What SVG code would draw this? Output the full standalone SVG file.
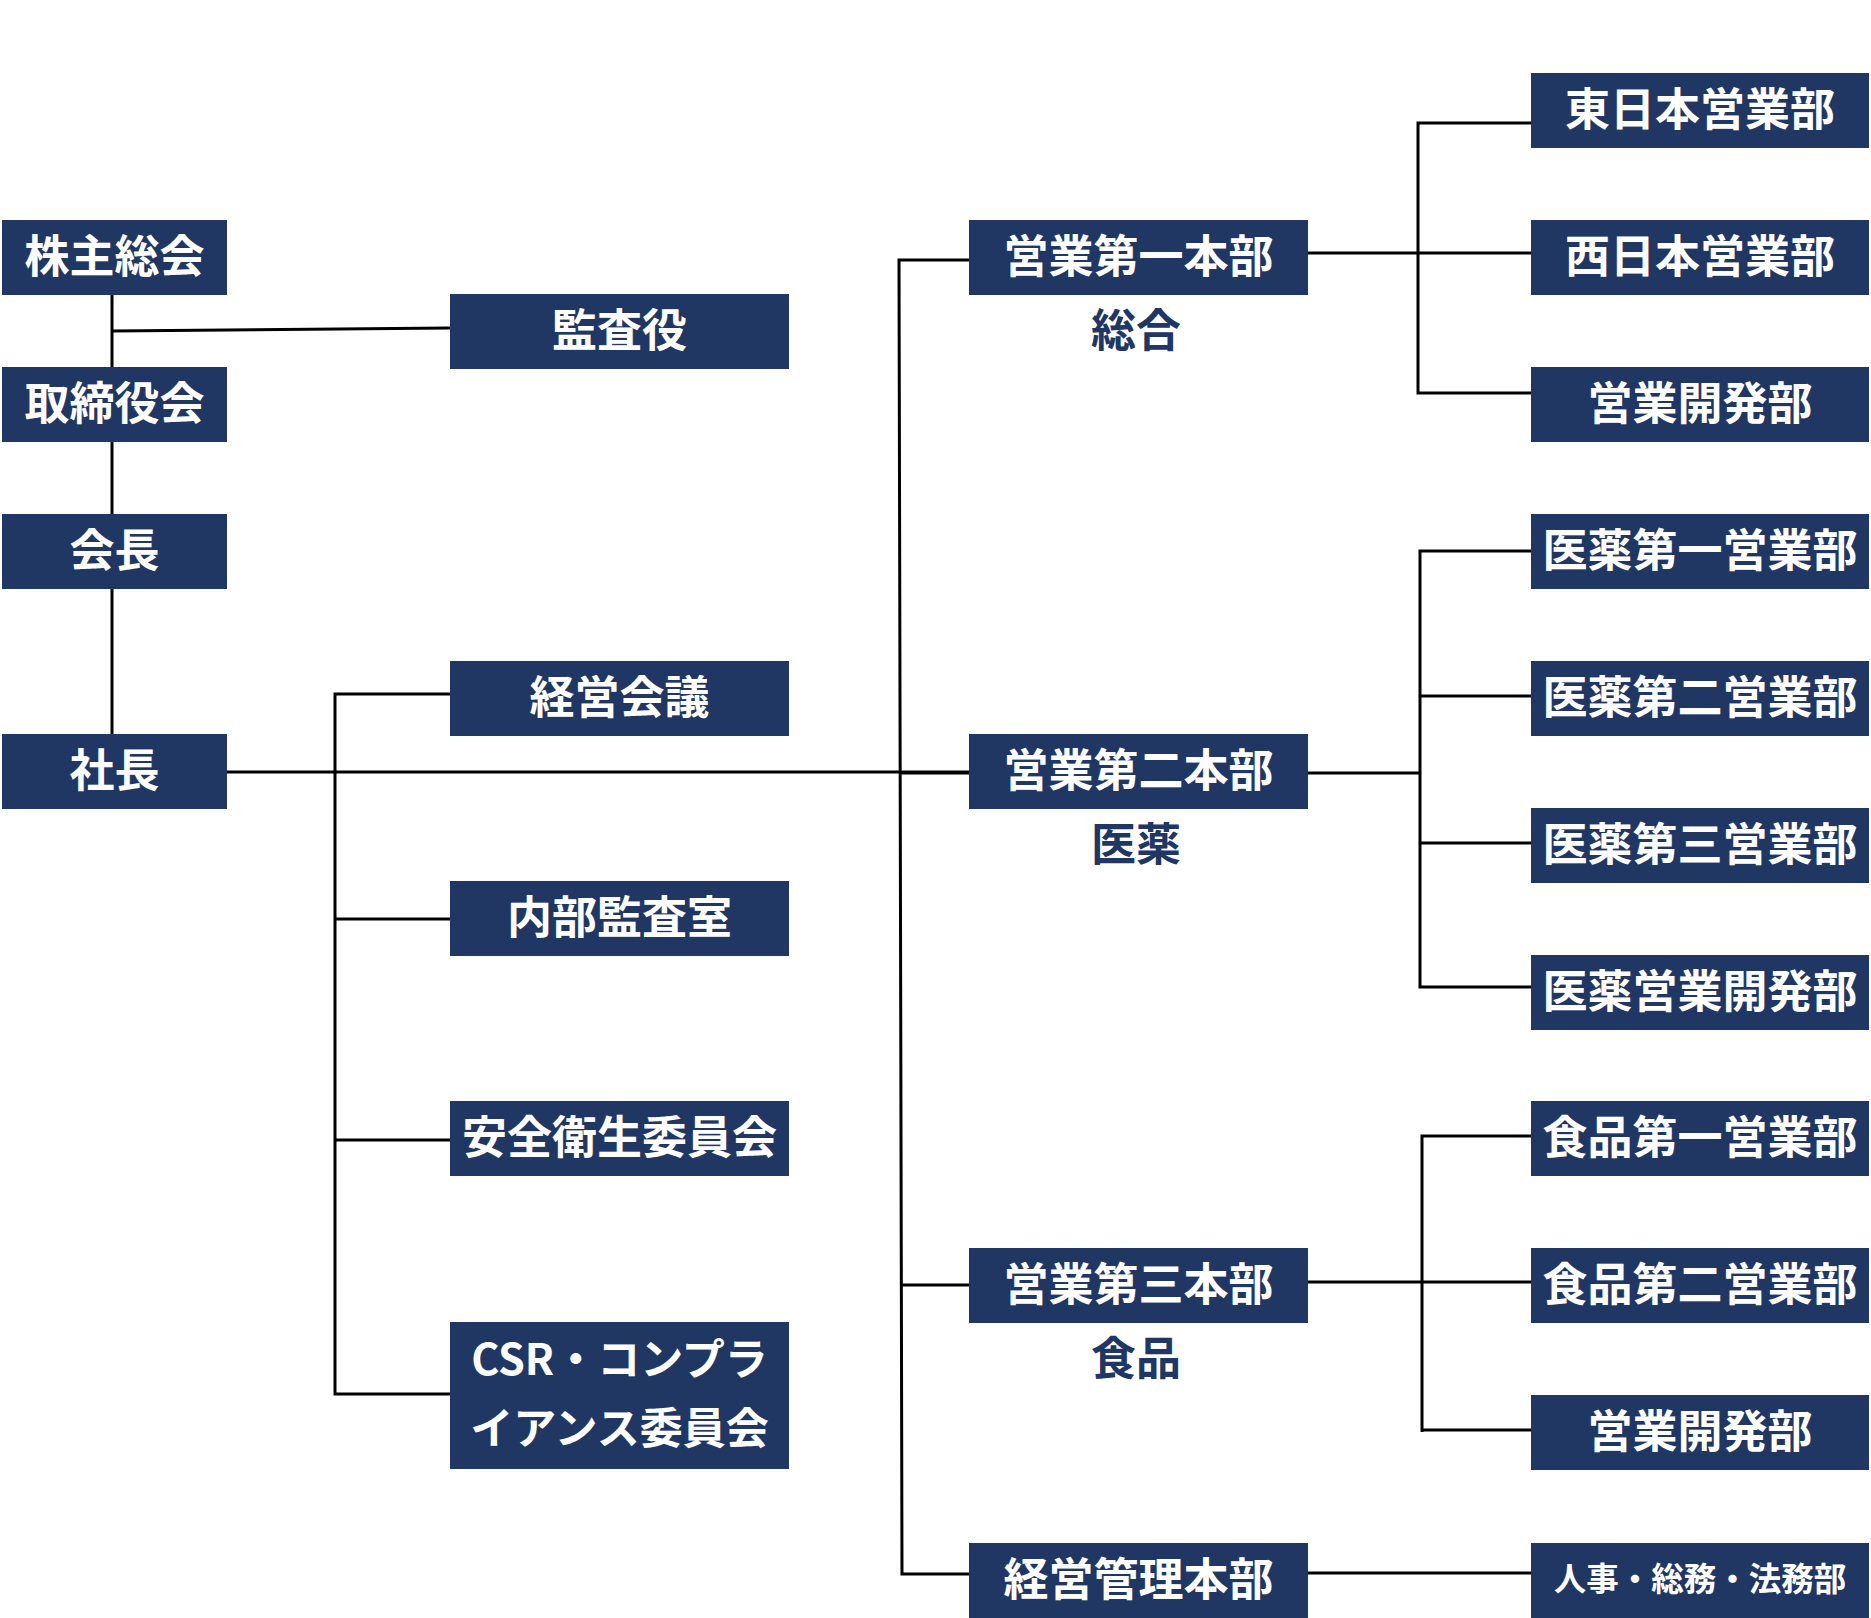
<svg xmlns="http://www.w3.org/2000/svg" width="1871" height="1618" viewBox="0 0 1871 1618">
<style>
.box{fill:#213763}
.t{font-family:"Noto Sans CJK JP","Noto Sans",sans-serif;font-weight:bold;font-size:45px;fill:#ffffff;text-anchor:middle}
.s{font-size:32.5px}
.m{font-size:43px}
.lbl{font-family:"Noto Sans CJK JP","Noto Sans",sans-serif;font-weight:bold;font-size:45px;fill:#213763;text-anchor:middle}
.c{fill:none;stroke:#000000;stroke-width:3}
</style>
<rect width="1871" height="1618" fill="#ffffff"/>
<g id="connectors">
<path class="c" d="M112 295 V734"/>
<path class="c" d="M112 331 L450 328"/>
<path class="c" d="M227 772 H969"/>
<path class="c" d="M450 694 H335 V1394 H450 M335 919 H450 M335 1140 H450"/>
<path class="c" d="M969 260 H899 L902 1574 H969 M900 773 H969 M901 1285 H969"/>
<path class="c" d="M1308 253 H1531 M1531 123 H1418 V393 H1531"/>
<path class="c" d="M1308 773 H1420 M1531 551 H1420 V987 H1531 M1420 696 H1531 M1420 843 H1531"/>
<path class="c" d="M1308 1282 H1531 M1531 1136 H1422 V1432 M1422 1430 H1531"/>
<path class="c" d="M1308 1573 H1531"/>
</g>
<g id="n-kabunushi"><rect class="box" x="2" y="220" width="225" height="75"/><text class="t" x="114.5" y="273">株主総会</text></g>
<g id="n-torishimariyaku"><rect class="box" x="2" y="367" width="225" height="75"/><text class="t" x="114.5" y="420">取締役会</text></g>
<g id="n-kaicho"><rect class="box" x="2" y="514" width="225" height="75"/><text class="t" x="114.5" y="567">会長</text></g>
<g id="n-shacho"><rect class="box" x="2" y="734" width="225" height="75"/><text class="t" x="114.5" y="787">社長</text></g>
<g id="n-kansayaku"><rect class="box" x="450" y="294" width="339" height="75"/><text class="t" x="619.5" y="347">監査役</text></g>
<g id="n-keiei-kaigi"><rect class="box" x="450" y="661" width="339" height="75"/><text class="t" x="619.5" y="714">経営会議</text></g>
<g id="n-naibu-kansa"><rect class="box" x="450" y="881" width="339" height="75"/><text class="t" x="619.5" y="934">内部監査室</text></g>
<g id="n-anzen"><rect class="box" x="450" y="1101" width="339" height="75"/><text class="t" x="619.5" y="1154">安全衛生委員会</text></g>
<g id="n-csr"><rect class="box" x="450" y="1322" width="339" height="147"/><text class="t m" x="619.5" y="1375">CSR・コンプラ</text><text class="t m" x="619.5" y="1444">イアンス委員会</text></g>
<g id="n-eigyo1"><rect class="box" x="969" y="220" width="339" height="75"/><text class="t" x="1138.5" y="273">営業第一本部</text></g>
<g id="n-eigyo2"><rect class="box" x="969" y="734" width="339" height="75"/><text class="t" x="1138.5" y="787">営業第二本部</text></g>
<g id="n-eigyo3"><rect class="box" x="969" y="1248" width="339" height="75"/><text class="t" x="1138.5" y="1301">営業第三本部</text></g>
<g id="n-keiei-kanri"><rect class="box" x="969" y="1543" width="339" height="75"/><text class="t" x="1138.5" y="1596">経営管理本部</text></g>
<g id="labels">
<text class="lbl" x="1136" y="347">総合</text>
<text class="lbl" x="1136" y="861">医薬</text>
<text class="lbl" x="1136" y="1375">食品</text>
</g>
<g id="n-higashi"><rect class="box" x="1531" y="73" width="338" height="75"/><text class="t" x="1700" y="126">東日本営業部</text></g>
<g id="n-nishi"><rect class="box" x="1531" y="220" width="338" height="75"/><text class="t" x="1700" y="273">西日本営業部</text></g>
<g id="n-kaihatsu1"><rect class="box" x="1531" y="367" width="338" height="75"/><text class="t" x="1700" y="420">営業開発部</text></g>
<g id="n-iyaku1"><rect class="box" x="1531" y="514" width="338" height="75"/><text class="t" x="1700" y="567">医薬第一営業部</text></g>
<g id="n-iyaku2"><rect class="box" x="1531" y="661" width="338" height="75"/><text class="t" x="1700" y="714">医薬第二営業部</text></g>
<g id="n-iyaku3"><rect class="box" x="1531" y="808" width="338" height="75"/><text class="t" x="1700" y="861">医薬第三営業部</text></g>
<g id="n-iyaku-kaihatsu"><rect class="box" x="1531" y="955" width="338" height="75"/><text class="t" x="1700" y="1008">医薬営業開発部</text></g>
<g id="n-shokuhin1"><rect class="box" x="1531" y="1101" width="338" height="75"/><text class="t" x="1700" y="1154">食品第一営業部</text></g>
<g id="n-shokuhin2"><rect class="box" x="1531" y="1248" width="338" height="75"/><text class="t" x="1700" y="1301">食品第二営業部</text></g>
<g id="n-kaihatsu3"><rect class="box" x="1531" y="1395" width="338" height="75"/><text class="t" x="1700" y="1448">営業開発部</text></g>
<g id="n-jinji"><rect class="box" x="1531" y="1543" width="338" height="75"/><text class="t s" x="1700" y="1591">人事・総務・法務部</text></g>
</svg>
